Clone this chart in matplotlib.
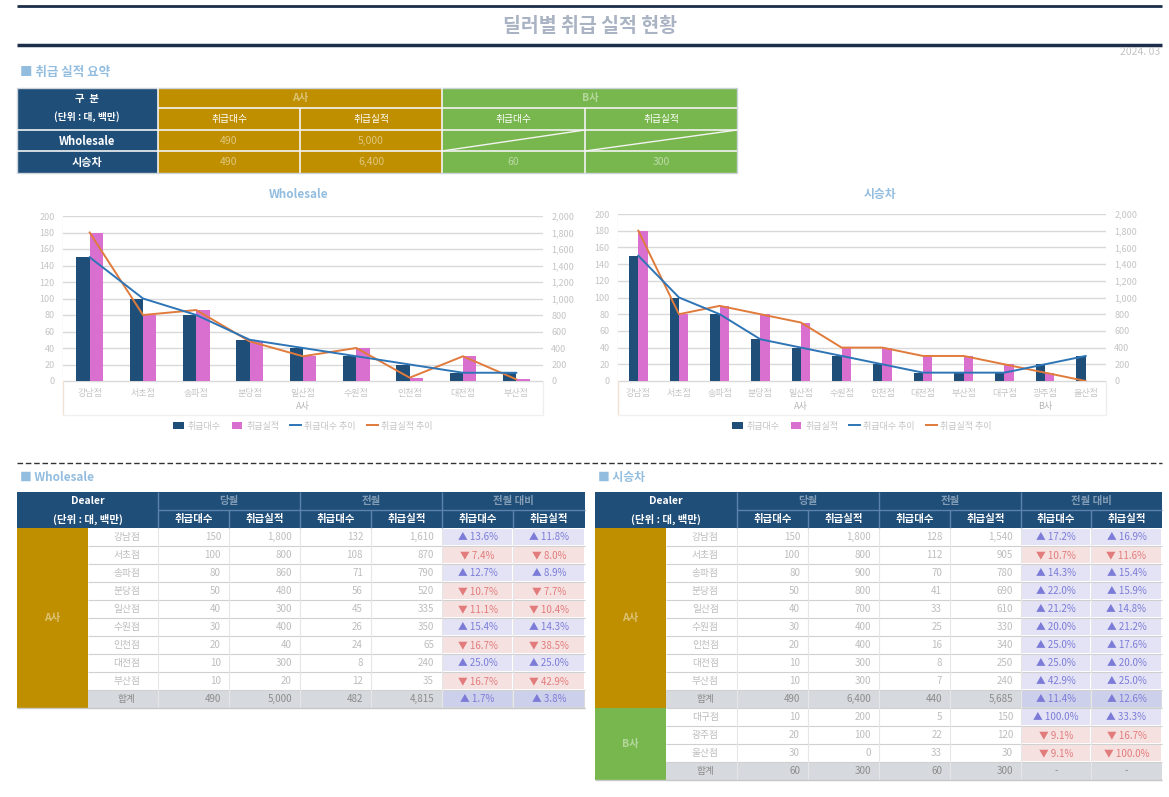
import numpy as np
import matplotlib
matplotlib.use("Agg")
import matplotlib.pyplot as plt
from matplotlib.patches import Rectangle, Patch
from matplotlib.lines import Line2D

plt.rcParams['font.family'] = ['Noto Sans CJK KR', 'DejaVu Sans']

# ---- 데이터 ----
brands = ['A사', 'B사']
dealers_a = ['강남점', '서초점', '송파점', '분당점', '일산점', '수원점', '인천점', '대전점', '부산점']
dealers_b = ['대구점', '광주점', '울산점']

# Wholesale (A사)
ws_units = [150, 100, 80, 50, 40, 30, 20, 10, 10]
ws_amount = [1800, 800, 860, 480, 300, 400, 40, 300, 20]
ws_units_prev = [132, 108, 71, 56, 45, 26, 24, 8, 12]
ws_amount_prev = [1610, 870, 790, 520, 335, 350, 65, 240, 35]

# 시승차
demo_units_a = [150, 100, 80, 50, 40, 30, 20, 10, 10]
demo_amount_a = [1800, 800, 900, 800, 700, 400, 400, 300, 300]
demo_units_a_prev = [128, 112, 70, 41, 33, 25, 16, 8, 7]
demo_amount_a_prev = [1540, 905, 780, 690, 610, 330, 340, 250, 240]
demo_units_b = [10, 20, 30]
demo_amount_b = [200, 100, 0]
demo_units_b_prev = [5, 22, 33]
demo_amount_b_prev = [150, 120, 30]

col_heads = ['취급대수', '취급실적']
period_heads = ['당월', '전월', '전월 대비']
legend_labels = ['취급대수', '취급실적', '취급대수 추이', '취급실적 추이']

# ---- 스타일 ----
W, H = 1169, 797
NAVY = '#1f4e79'
ORANGE = '#bf8f00'
GREEN = '#78b74d'
PINK = '#d970d0'
LINE_BLUE = '#2e75b6'
LINE_ORANGE = '#e07b3c'
PALE = '#c4c4c4'
PALE_BLUE = '#93bddf'

fig = plt.figure(figsize=(W / 100, H / 100), dpi=100)
bg = fig.add_axes([0, 0, 1, 1])
bg.set_xlim(0, W)
bg.set_ylim(H, 0)
bg.axis('off')


def rect(x0, y0, x1, y1, color, **kw):
    bg.add_patch(Rectangle((x0, y0), x1 - x0, y1 - y0, facecolor=color, edgecolor='none', **kw))


def hline(y, x0, x1, color, lw=1.0, **kw):
    bg.plot([x0, x1], [y, y], color=color, lw=lw, solid_capstyle='butt', **kw)


def vline(x, y0, y1, color, lw=1.0, **kw):
    bg.plot([x, x], [y0, y1], color=color, lw=lw, solid_capstyle='butt', **kw)


def txt(x, y, s, color='white', size=7.5, weight='bold', ha='center', **kw):
    bg.text(x, y, s, color=color, fontsize=size, fontweight=weight, ha=ha, va='center', **kw)


def fbox(x0, y0, x1, y1):
    return [x0 / W, 1 - y1 / H, (x1 - x0) / W, (y1 - y0) / H]


# ---- 헤더 ----
hline(6, 17, 1162, '#1c2e4a', lw=2)
hline(45, 17, 1162, '#1c2e4a', lw=2.5)
txt(590, 26, '딜러별 취급 실적 현황', color='#a9b3c3', size=14)
txt(1160, 52, '2024. 03', color=PALE, size=7.5, weight='normal', ha='right')
txt(20, 72, '■ 취급 실적 요약', color=PALE_BLUE, size=9, ha='left')

# ---- 요약 테이블 ----
rect(17, 88, 158, 173, NAVY)
rect(158, 88, 442, 173, ORANGE)
rect(442, 88, 737, 173, GREEN)
LC = '#f3f3f3'
hline(108, 158, 737, LC, lw=1.2)
hline(130, 17, 737, LC, lw=1.2)
hline(151, 17, 737, LC, lw=1.2)
vline(158, 88, 173, LC, lw=1.2)
vline(442, 88, 173, LC, lw=1.2)
vline(300, 108, 173, LC, lw=1.2)
vline(585, 108, 173, LC, lw=1.2)
bg.plot([442, 585], [151, 130], color=LC, lw=1)
bg.plot([585, 737], [151, 130], color=LC, lw=1)
bg.add_patch(Rectangle((17, 88), 720, 85, facecolor='none', edgecolor='#cdd3da', lw=1))

txt(87, 99, '구  분', size=7.5)
txt(87, 117, '(단위 : 대, 백만)', size=7)
txt(87, 141, 'Wholesale', size=8)
txt(87, 162, '시승차', size=8)
txt(300, 98, brands[0], alpha=0.45)
txt(590, 98, brands[1], alpha=0.45)
for x, h in zip([229, 371, 513, 661], col_heads * 2):
    txt(x, 119, h, size=7, weight='normal')
txt(229, 141, f'{sum(ws_units):,}', alpha=0.5, weight='normal')
txt(371, 141, f'{sum(ws_amount):,}', alpha=0.5, weight='normal')
txt(229, 162, f'{sum(demo_units_a):,}', alpha=0.5, weight='normal')
txt(371, 162, f'{sum(demo_amount_a):,}', alpha=0.5, weight='normal')
txt(513, 162, f'{sum(demo_units_b):,}', alpha=0.5, weight='normal')
txt(661, 162, f'{sum(demo_amount_b):,}', alpha=0.5, weight='normal')


# ---- 차트 ----
def draw_chart(box, cats, units, amount, groups, title, title_x, bar_w):
    x0, y0, x1, y1 = box
    ax = fig.add_axes(fbox(*box))
    n = len(cats)
    x = np.arange(n)
    ax.set_xlim(-0.5, n - 0.5)
    ax.set_ylim(0, 200)
    ax.set_yticks(range(0, 201, 20))
    ax.grid(axis='y', color='#d9d9d9', lw=1)
    ax.set_axisbelow(True)
    ax.bar(x - bar_w / 2, units, bar_w, color=NAVY, zorder=2)
    for s in ax.spines.values():
        s.set_visible(False)
    ax.tick_params(length=0, labelsize=6.5, labelcolor=PALE, pad=6)
    ax.set_xticks(x)
    ax.set_xticklabels(cats)

    ax2 = ax.twinx()
    ax2.set_ylim(0, 2000)
    ax2.set_yticks(range(0, 2001, 200))
    ax2.set_yticklabels([f'{v:,}' for v in range(0, 2001, 200)])
    ax2.bar(x + bar_w / 2, amount, bar_w, color=PINK, zorder=2)
    ax2.plot(x, amount, color=LINE_ORANGE, lw=1.4, zorder=3)
    for s in ax2.spines.values():
        s.set_visible(False)
    ax2.tick_params(length=0, labelsize=6.5, labelcolor=PALE, pad=6)

    ax3 = ax.twinx()
    ax3.set_ylim(0, 200)
    ax3.axis('off')
    ax3.plot(x, units, color=LINE_BLUE, lw=1.4)

    # 범주 축 그룹 라벨과 테두리
    h = y1 - y0
    for name, a, b in groups:
        ax.text((a + b) / 2, -(407 - y1) / h, name, transform=ax.get_xaxis_transform(),
                ha='center', va='center', fontsize=6.5, color='#b5b5b5')
    hline(y1, x0, x1, '#d9d9d9')
    vline(x0, y0, 415, '#f1e2d6')
    vline(x1, y1, 415, '#eeeeee')
    hline(415, x0, x1, '#f0f0f0')
    txt(title_x, 194, title, color=PALE_BLUE, size=8.5)

    handles = [Patch(facecolor=NAVY), Patch(facecolor=PINK),
               Line2D([0], [0], color=LINE_BLUE, lw=1.4), Line2D([0], [0], color=LINE_ORANGE, lw=1.4)]
    fig.legend(handles, legend_labels, loc='center', ncol=4, frameon=False, fontsize=6.5,
               labelcolor=PALE, handlelength=1.2, handleheight=0.8, columnspacing=1.2, handletextpad=0.4,
               bbox_to_anchor=((x0 + x1) / 2 / W, 1 - 426 / H))


draw_chart((63, 216, 543, 381), dealers_a, ws_units, ws_amount,
           [(brands[0], 0, len(dealers_a) - 1)], 'Wholesale', 299, 0.25)
na = len(dealers_a)
draw_chart((618, 214, 1106, 381), dealers_a + dealers_b, demo_units_a + demo_units_b,
           demo_amount_a + demo_amount_b,
           [(brands[0], 0, na - 1), (brands[1], na, na + len(dealers_b) - 1)], '시승차', 880, 0.23)

# ---- 구분선 ----
bg.plot([17, 1162], [463, 463], color='#333333', lw=1, ls=(0, (4, 2)))


# ---- 상세 테이블 ----
def detail_table(xe, blocks, label):
    x0, x1 = xe[0], xe[-1]
    txt(x0 + 3, 477, label, color=PALE_BLUE, size=8.5, ha='left')
    rect(x0, 492, x1, 528, NAVY)
    txt((xe[0] + xe[2]) / 2, 501, 'Dealer', size=7.5)
    txt((xe[0] + xe[2]) / 2, 519, '(단위 : 대, 백만)', size=7.5)
    SEP = '#5d82ad'
    hline(510, xe[2], x1, SEP)
    for g, head in enumerate(period_heads):
        a, b = xe[2 + 2 * g], xe[4 + 2 * g]
        txt((a + b) / 2, 501, head, alpha=0.45, size=7.5)
        vline(a, 492, 528, SEP)
        vline(xe[3 + 2 * g], 510, 528, SEP)
        for k in range(2):
            txt((xe[2 + 2 * g + k] + xe[3 + 2 * g + k]) / 2, 519, col_heads[k], size=7.5)

    y = 528
    for brand, color, names, cu, ca, pu, pa in blocks:
        rows = list(zip(names, cu, ca, pu, pa)) + [('합계', sum(cu), sum(ca), sum(pu), sum(pa))]
        n = len(rows)
        rect(x0, y, xe[1], y + n * 18, color)
        txt((x0 + xe[1]) / 2, y + n * 9, brand, color='white', alpha=0.45)
        for i, (name, u, a, p_u, p_a) in enumerate(rows):
            ry = y + i * 18
            total = i == n - 1
            if total:
                rect(xe[1], ry, x1, ry + 18, '#d6d9de')
            tc = '#8c8c8c' if total else '#bdbdbd'
            txt((xe[1] + xe[2]) / 2 + 4, ry + 9, name, color=tc, size=7, weight='normal')
            for j, v in enumerate([u, a, p_u, p_a]):
                txt(xe[3 + j] - 8, ry + 9, f'{v:,}', color=tc, size=7, weight='normal', ha='right')
            for k, (c, p) in enumerate([(u, p_u), (a, p_a)]):
                pct = (c - p) / p * 100
                cx0, cx1 = xe[6 + k], xe[7 + k]
                if pct > 0:
                    rect(cx0 + 1, ry + 1, cx1 - 1, ry + 17, '#e3e3f5' if not total else '#cdd0ea')
                    txt((cx0 + cx1) / 2, ry + 9, f'▲ {pct:.1f}%', color='#7c7cd8', size=7, weight='normal')
                elif pct < 0:
                    rect(cx0 + 1, ry + 1, cx1 - 1, ry + 17, '#f6e1e1')
                    txt((cx0 + cx1) / 2, ry + 9, f'▼ {-pct:.1f}%', color='#e27b7b', size=7, weight='normal')
                else:
                    txt((cx0 + cx1) / 2, ry + 9, '-', color=tc, size=7, weight='normal')
            hline(ry + 18, xe[1], x1, '#d0d0d0', lw=0.8)
        y += n * 18
    for xv in xe[2:-1]:
        vline(xv, 528, y, '#e6e6e6', lw=0.8)
    hline(y, x0, x1, '#c8c8c8', lw=1)


detail_table([17, 88, 158, 229, 300, 371, 442, 513, 585],
             [(brands[0], ORANGE, dealers_a, ws_units, ws_amount, ws_units_prev, ws_amount_prev)],
             '■ Wholesale')
detail_table([595, 666, 737, 808, 879, 950, 1021, 1091, 1162],
             [(brands[0], ORANGE, dealers_a, demo_units_a, demo_amount_a, demo_units_a_prev, demo_amount_a_prev),
              (brands[1], GREEN, dealers_b, demo_units_b, demo_amount_b, demo_units_b_prev, demo_amount_b_prev)],
             '■ 시승차')

fig.savefig('out.png', dpi=100)
